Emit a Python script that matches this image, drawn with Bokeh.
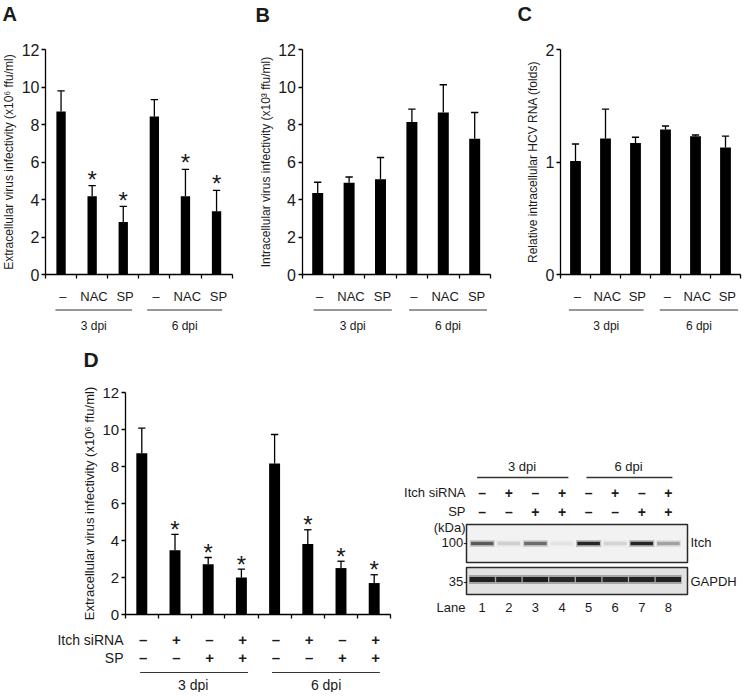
from bokeh.plotting import figure
from bokeh.layouts import row, column
from bokeh.models import FixedTicker, Range1d
from bokeh.core.properties import value
from bokeh.embed import file_html
from bokeh.resources import INLINE

# ------------------------------------------------------------------ data
groups = ["3 dpi", "6 dpi"]
treat_abc = ["–", "NAC", "SP"]

# Panel A: extracellular virus infectivity (x10^6 ffu/ml)
a_mean = [8.70, 4.18, 2.80, 8.43, 4.18, 3.38]
a_sd = [1.09, 0.56, 0.83, 0.90, 1.43, 1.11]
a_sig = [False, True, True, False, True, True]

# Panel B: intracellular virus infectivity (x10^3 ffu/ml)
b_mean = [4.35, 4.90, 5.08, 8.14, 8.64, 7.24]
b_sd = [0.57, 0.30, 1.16, 0.68, 1.48, 1.40]

# Panel C: relative intracellular HCV RNA (folds)
c_mean = [1.01, 1.21, 1.17, 1.29, 1.23, 1.13]
c_sd = [0.15, 0.26, 0.05, 0.03, 0.01, 0.10]

# Panel D: extracellular virus infectivity, Itch siRNA / SP
d_mean = [8.72, 3.47, 2.72, 2.00, 8.16, 3.81, 2.51, 1.70]
d_sd = [1.35, 0.86, 0.36, 0.45, 1.57, 0.77, 0.37, 0.45]
d_sig = [False, True, True, True, False, True, True, True]
itch_sirna = ["–", "+", "–", "+", "–", "+", "–", "+"]
sp_treat = ["–", "–", "+", "+", "–", "–", "+", "+"]

# Western blot (relative band intensity 0..1)
lanes = [1, 2, 3, 4, 5, 6, 7, 8]
itch_band = [0.70, 0.14, 0.60, 0.06, 1.00, 0.12, 1.00, 0.35]
gapdh_band = [0.92, 0.90, 0.93, 0.88, 0.92, 0.88, 0.90, 0.91]

# ------------------------------------------------------------------ style
FONT = "Liberation Sans"
INK = "#1a1a1a"


def panel(w, h, ox, oy, sx, sy):
    p = figure(width=w, height=h, output_backend="svg", toolbar_location=None,
               x_range=Range1d(-ox / sx, (w - ox) / sx),
               y_range=Range1d(-(h - oy) / sy, oy / sy),
               min_border=0, outline_line_color=None,
               background_fill_color="white", border_fill_color="white")
    p.grid.visible = False
    X = lambda px: (px - ox) / sx
    Y = lambda py: (oy - py) / sy
    return p, X, Y


def axes(p, n, ymax, yticks, label, tick_fs, label_fs):
    xa = p.xaxis[0]
    ya = p.yaxis[0]
    for ax in (xa, ya):
        ax.fixed_location = 0
        ax.axis_line_color = "black"
        ax.axis_line_width = 1.3
        ax.major_tick_line_color = "black"
        ax.major_tick_line_width = 1.3
        ax.major_tick_in = 0
        ax.major_tick_out = 4
        ax.minor_tick_line_color = None
    xa.bounds = (0, n)
    xa.ticker = FixedTicker(ticks=list(range(n + 1)))
    xa.major_label_text_font_size = "0px"
    xa.major_label_text_color = None
    ya.bounds = (0, ymax)
    ya.ticker = FixedTicker(ticks=yticks)
    ya.major_label_text_font = FONT
    ya.major_label_text_font_size = tick_fs
    ya.major_label_text_color = INK
    ya.major_label_standoff = 2
    ya.axis_label = label
    ya.axis_label_text_font = FONT
    ya.axis_label_text_font_size = label_fs
    ya.axis_label_text_font_style = "normal"
    ya.axis_label_text_color = INK
    ya.axis_label_standoff = 3


def bars(p, means, sds, width, cap, sig=None, star_dy=0.0):
    xs = [i + 0.5 for i in range(len(means))]
    tops = [m + s for m, s in zip(means, sds)]
    p.vbar(x=xs, top=means, bottom=0, width=width, fill_color="black", line_color=None)
    p.segment(x0=xs, y0=means, x1=xs, y1=tops, line_color="black", line_width=1.3)
    p.segment(x0=[x - cap for x in xs], y0=tops, x1=[x + cap for x in xs], y1=tops,
              line_color="black", line_width=1.3)
    if sig:
        sx = [x for x, s in zip(xs, sig) if s]
        sy = [t + star_dy for t, s in zip(tops, sig) if s]
        p.text(x=sx, y=sy, text=["*"] * len(sx), text_font=value(FONT),
               text_font_size=value("24px"), text_align="center",
               text_baseline="middle", text_color=INK)
    return xs


def txt(p, x, y, t, size, align="center", bold=False):
    p.text(x=x, y=y, text=t, text_font=value(FONT), text_font_size=value(size),
           text_align=align, text_baseline="middle", text_color=INK,
           text_font_style="bold" if bold else "normal")


def group_rows(p, X, Y, xs, line_spans, y_lab, y_line, y_grp, fs_lab, fs_grp):
    txt(p, [x + 0.06 for x in xs], [Y(y_lab)] * len(xs), treat_abc * 2, fs_lab)
    p.segment(x0=[a for a, b in line_spans], x1=[b for a, b in line_spans],
              y0=[Y(y_line)] * 2, y1=[Y(y_line)] * 2, line_color="#333333", line_width=1.2)
    txt(p, [(a + b) / 2 for a, b in line_spans], [Y(y_grp)] * 2, groups, fs_grp)


TOP_H = 335
# ------------------------------------------------------------------ Panel A
pA, XA, YA = panel(245, TOP_H, 45, 274, 31.1, 18.75)
axes(pA, 6, 12, [0, 2, 4, 6, 8, 10, 12],
     "Extracellular virus infectivity (x10\u2076 ffu/ml)", "16px", "12px")
xsA = bars(pA, a_mean, a_sd, 0.30, 0.118, a_sig, 0.34)
group_rows(pA, XA, YA, xsA, [(0.32, 2.78), (3.27, 5.68)], 296, 309.5, 325, "13px", "12px")
txt(pA, [XA(2)], [YA(13)], ["A"], "20px", align="left", bold=True)

# ------------------------------------------------------------------ Panel B
pB, XB, YB = panel(250, TOP_H, 56.5, 274, 31.4, 18.75)
axes(pB, 6, 12, [0, 2, 4, 6, 8, 10, 12],
     "Intracellular virus infectivity (x10\u00b3 ffu/ml)", "16px", "12px")
xsB = bars(pB, b_mean, b_sd, 0.35, 0.117)
group_rows(pB, XB, YB, xsB, [(0.37, 2.86), (3.41, 5.89)], 296, 309.5, 325, "13px", "12px")
txt(pB, [XB(10)], [YB(14)], ["B"], "20px", align="left", bold=True)

# ------------------------------------------------------------------ Panel C
pC, XC, YC = panel(247, TOP_H, 65, 274, 30.0, 112.5)
axes(pC, 6, 2, [0, 1, 2], "Relative intracellular HCV RNA (folds)", "16px", "12px")
xsC = bars(pC, c_mean, c_sd, 0.36, 0.12)
group_rows(pC, XC, YC, xsC, [(0.28, 2.77), (3.31, 5.92)], 296, 309.5, 325, "13px", "12px")
txt(pC, [XC(22)], [YC(13)], ["C"], "20px", align="left", bold=True)

# ------------------------------------------------------------------ Panel D
BOT_H = 357
pD, XD, YD = panel(395, BOT_H, 124.7, 279, 33.2, 18.5)
axes(pD, 8, 12, [0, 2, 4, 6, 8, 10, 12],
     "Extracellular virus infectivity (x10\u2076 ffu/ml)", "15px", "13px")
xsD = bars(pD, d_mean, d_sd, 0.33, 0.11, d_sig, 0.27)
txt(pD, [x + 0.04 for x in xsD], [YD(304)] * 8, itch_sirna, "15px", bold=True)
txt(pD, [x + 0.04 for x in xsD], [YD(322)] * 8, sp_treat, "15px", bold=True)
txt(pD, [XD(123)], [YD(304)], ["Itch siRNA"], "14px", align="right")
txt(pD, [XD(123)], [YD(322)], ["SP"], "14px", align="right")
spansD = [(0.45, 3.7), (4.42, 7.67)]
pD.segment(x0=[a for a, b in spansD], x1=[b for a, b in spansD],
           y0=[YD(337)] * 2, y1=[YD(337)] * 2, line_color="#333333", line_width=1.2)
txt(pD, [2.05, 6.05], [YD(349)] * 2, groups, "14px")
txt(pD, [XD(83)], [YD(24)], ["D"], "21px", align="left", bold=True)

# ------------------------------------------------------------------ Western blot
WW = 347
L0, LS = 86.7, 26.6          # pixel of lane 1, pixels per lane
WX = lambda px: 1 + (px - L0) / LS
pW = figure(width=WW, height=BOT_H, output_backend="svg", toolbar_location=None,
            x_range=Range1d(WX(0), WX(WW)), y_range=Range1d(BOT_H, 0),
            x_axis_type=None, y_axis_type=None, min_border=0,
            outline_line_color=None, background_fill_color="white",
            border_fill_color="white")
pW.grid.visible = False

# group headers
txt(pW, [2.5, 6.5], [131, 131], groups, "13px")
pW.segment(x0=[0.81, 4.92], x1=[4.24, 8.15], y0=[142, 142], y1=[142, 142],
           line_color="#333333", line_width=1.4)
txt(pW, [WX(70)], [157], ["Itch siRNA"], "13px", align="right")
txt(pW, [WX(70)], [176], ["SP"], "13px", align="right")
txt(pW, lanes, [157] * 8, itch_sirna, "14px", bold=True)
txt(pW, lanes, [176] * 8, sp_treat, "14px", bold=True)
txt(pW, [WX(70)], [192], ["(kDa)"], "13px", align="right")

# blot frames
pW.quad(left=[WX(71)] * 2, right=[WX(292)] * 2, top=[189, 232], bottom=[227, 259],
        fill_color=["#f2f2f2", "#e2e2e2"], line_color="#2a2a2a", line_width=1.5)
# bands (soft halo + core)
pW.rect(x=lanes, y=[208] * 8, width=0.95, height=7, height_units="screen",
        fill_color="black", fill_alpha=[a * 0.22 for a in itch_band], line_color=None)
pW.rect(x=lanes, y=[208] * 8, width=0.85, height=3.5, height_units="screen",
        fill_color="black", fill_alpha=[a * 0.8 for a in itch_band], line_color=None)
pW.rect(x=lanes, y=[244] * 8, width=1.0, height=9, height_units="screen",
        fill_color="black", fill_alpha=[a * 0.3 for a in gapdh_band], line_color=None)
pW.rect(x=lanes, y=[244] * 8, width=0.95, height=5, height_units="screen",
        fill_color="black", fill_alpha=[a * 0.88 for a in gapdh_band], line_color=None)

txt(pW, [WX(72)], [207], ["100-"], "13px", align="right")
txt(pW, [WX(72)], [246], ["35-"], "13px", align="right")
txt(pW, [WX(295)], [207], ["Itch"], "13px", align="left")
txt(pW, [WX(295)], [246], ["GAPDH"], "13px", align="left")
txt(pW, [WX(70)], [272], ["Lane"], "13px", align="right")
txt(pW, lanes, [272] * 8, [str(l) for l in lanes], "13px")

layout = column(row(pA, pB, pC), row(pD, pW))
open("out.html", "w").write(file_html(layout, INLINE))
